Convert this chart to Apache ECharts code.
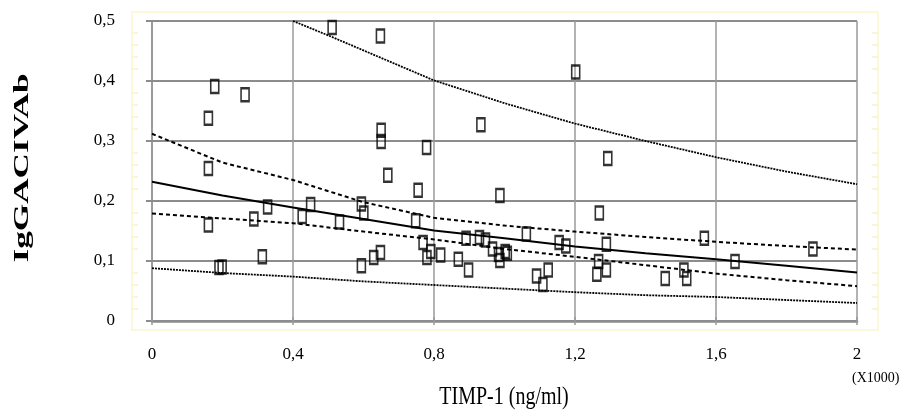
<!DOCTYPE html>
<html>
<head>
<meta charset="utf-8">
<script src="https://cdn.jsdelivr.net/npm/echarts@6/dist/echarts.min.js"></script>
<style>
html,body{margin:0;padding:0;background:#fff;}
#chart{width:903px;height:414px;}
</style>
</head>
<body>
<div id="chart"></div>
<script>
// ---- data ----
const pointX = [0.511,0.648,1.202,0.178,0.264,0.160,0.933,0.650,0.650,0.779,1.293,0.160,0.669,0.755,0.987,0.328,0.160,0.289,0.313,0.190,0.199,0.426,0.450,0.532,0.594,0.601,0.594,0.629,0.648,0.748,0.769,0.791,0.780,0.819,0.869,0.898,0.891,0.929,0.946,0.966,0.983,0.987,1.002,1.008,1.062,1.091,1.109,1.124,1.155,1.174,1.269,1.289,1.267,1.262,1.289,1.567,1.875,1.654,1.509,1.517,1.456];
const pointY = [0.489,0.475,0.415,0.391,0.377,0.338,0.327,0.318,0.299,0.289,0.271,0.254,0.243,0.218,0.209,0.190,0.160,0.170,0.107,0.089,0.090,0.174,0.194,0.165,0.195,0.180,0.092,0.106,0.114,0.167,0.131,0.116,0.106,0.110,0.103,0.085,0.138,0.139,0.135,0.120,0.111,0.101,0.116,0.113,0.145,0.075,0.061,0.085,0.131,0.125,0.180,0.128,0.099,0.078,0.085,0.138,0.120,0.099,0.085,0.071,0.071];

const curveX     = [0,0.2,0.4,0.6,0.8,1.0,1.2,1.4,1.6,1.8,2.0];
const fitY       = [0.232,0.209,0.189,0.170,0.151,0.138,0.124,0.113,0.103,0.092,0.081];
const confUpperY = [0.312,0.264,0.235,0.198,0.172,0.159,0.149,0.140,0.132,0.125,0.119];
const confLowerY = [0.179,0.171,0.163,0.149,0.136,0.120,0.107,0.093,0.079,0.068,0.058];
const predLowerY = [0.088,0.080,0.074,0.066,0.060,0.054,0.048,0.043,0.040,0.035,0.030];
const predUpperX = [0.4,0.5,0.6,0.8,1.0,1.2,1.4,1.6,1.8,2.0];
const predUpperY = [0.500,0.476,0.451,0.401,0.363,0.329,0.300,0.273,0.249,0.228];

const xTickLabels = ["0","0,4","0,8","1,2","1,6","2"];
const yTickLabels = ["0","0,1","0,2","0,3","0,4","0,5"];
const xTitle = "TIMP-1 (ng/ml)";
const yTitle = "IgGACIVAb";
const xUnit = "(X1000)";

// ---- chart ----
const zip = (xs, ys) => xs.map((x, i) => [x, ys[i]]);
const serif = '"Liberation Serif", "Times New Roman", serif';
const gridGray = '#8c8c8c';

const chart = echarts.init(document.getElementById('chart'), null, {renderer: 'canvas'});

const yBase = {type: 'value', min: 0, max: 0.5, interval: 0.1, gridIndex: 0};
const lineSeries = (name, xs, ys, type, width) => ({
  name, type: 'line', data: zip(xs, ys), showSymbol: false, symbol: 'none',
  smooth: false, silent: true, z: 3,
  lineStyle: {color: '#000', width: width, type: type}
});

chart.setOption({
  animation: false,
  backgroundColor: '#fff',
  grid: {left: 152, right: 46, top: 21, bottom: 93, containLabel: false},
  graphic: [
    {type: 'rect', z: -10, silent: true,
     shape: {x: 132, y: 12, width: 746, height: 318},
     style: {fill: 'none', stroke: '#fcf8da', lineWidth: 2}},
    {type: 'text', left: 852, top: 371, silent: true,
     style: {text: xUnit, font: '14px ' + serif, fill: '#000'}},
    {type: 'text', x: 22, y: 168, rotation: Math.PI / 2, scaleX: 1.6, silent: true,
     style: {text: yTitle, font: 'bold 22px ' + serif, fill: '#000',
             align: 'center', verticalAlign: 'middle'}},
    {type: 'text', x: 504, y: 397, scaleY: 1.25, silent: true,
     style: {text: xTitle, font: '20px ' + serif, fill: '#000',
             align: 'center', verticalAlign: 'middle'}}
  ],
  xAxis: [
    {type: 'value', min: 0, max: 2, interval: 0.4, position: 'bottom',
     axisLine: {show: true, lineStyle: {color: gridGray, width: 2.5}},
     axisTick: {show: true, length: 4, lineStyle: {color: '#999', width: 1.5}},
     axisLabel: {margin: 25, fontFamily: serif, fontSize: 17, color: '#000',
                 formatter: v => xTickLabels[Math.round(v / 0.4)]},
     splitLine: {show: true, lineStyle: {color: '#9a9a9a', width: 1.5}}},
    {type: 'value', min: 0, max: 2, interval: 0.4, position: 'top',
     axisLine: {show: true, lineStyle: {color: gridGray, width: 2}},
     axisTick: {show: true, length: 4, lineStyle: {color: '#999', width: 1.5}},
     axisLabel: {show: false}, splitLine: {show: false}}
  ],
  yAxis: [
    Object.assign({}, yBase, {position: 'left',
     axisLine: {show: true, lineStyle: {color: '#9a9a9a', width: 1.5}},
     axisTick: {show: true, length: 6, lineStyle: {color: gridGray, width: 2}},
     axisLabel: {margin: 37, fontFamily: serif, fontSize: 17, color: '#000',
                 formatter: v => yTickLabels[Math.round(v / 0.1)]},
     splitLine: {show: true, lineStyle: {color: gridGray, width: 2}}}),
    Object.assign({}, yBase, {position: 'right',
     axisLine: {show: true, lineStyle: {color: '#9a9a9a', width: 1.5}},
     axisTick: {show: true, length: 6, lineStyle: {color: gridGray, width: 2}},
     axisLabel: {show: false}, splitLine: {show: false}}),
    Object.assign({}, yBase, {position: 'left', offset: 20,
     axisLine: {show: false}, axisTick: {show: false, inside: true},
     minorTick: {show: true, splitNumber: 5, length: 6, lineStyle: {color: '#f9f4c8', width: 1.5}},
     axisLabel: {show: false}, splitLine: {show: false}}),
    Object.assign({}, yBase, {position: 'right', offset: 21,
     axisLine: {show: false}, axisTick: {show: false, inside: true},
     minorTick: {show: true, splitNumber: 5, length: 6, lineStyle: {color: '#f9f4c8', width: 1.5}},
     axisLabel: {show: false}, splitLine: {show: false}})
  ],
  series: [
    lineSeries('predUpper', predUpperX, predUpperY, [2, 1], 1.8),
    lineSeries('predLower', curveX, predLowerY, [2, 1], 1.8),
    lineSeries('confUpper', curveX, confUpperY, [4, 3], 2),
    lineSeries('confLower', curveX, confLowerY, [4, 3], 2),
    lineSeries('fit', curveX, fitY, 'solid', 2),
    {name: 'obs', type: 'scatter', data: zip(pointX, pointY), z: 4,
     symbol: 'rect', symbolSize: [8, 13], silent: true,
     itemStyle: {color: 'rgba(0,0,0,0)', borderColor: '#000', borderWidth: 2}}
  ]
});
</script>
</body>
</html>
